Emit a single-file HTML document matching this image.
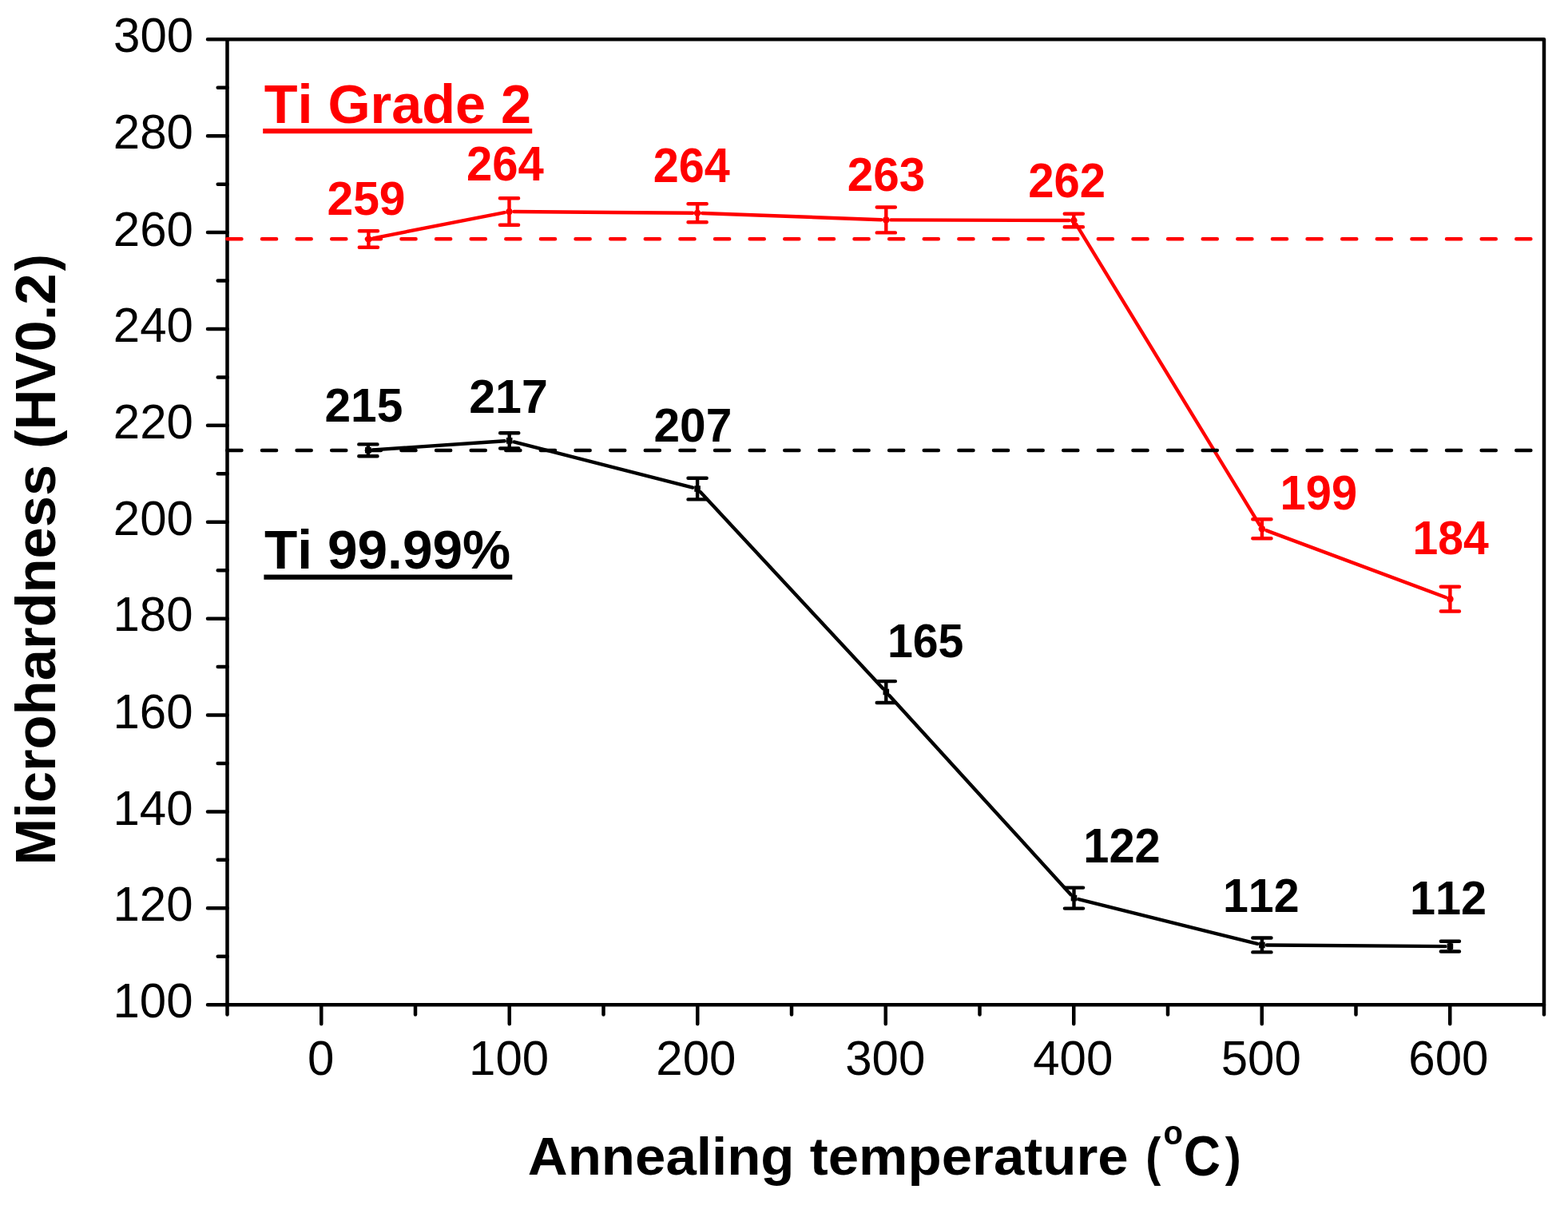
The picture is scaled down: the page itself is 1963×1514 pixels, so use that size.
<!DOCTYPE html>
<html><head><meta charset="utf-8"><title>Microhardness vs annealing temperature</title>
<style>html,body{margin:0;padding:0;background:#fff;overflow:hidden}svg{display:block}</style>
</head><body>
<svg width="1963" height="1514" viewBox="0 0 1963 1514">
<rect width="1963" height="1514" fill="#fff"/>
<g font-family="'Liberation Sans', Arial, sans-serif" style="font-kerning:none">
<text transform="matrix(1.0000 0 0 1.0200 141.46 1274.02)" font-size="60.0" font-weight="normal" fill="#000000">100</text>
<text transform="matrix(1.0000 0 0 1.0200 141.46 1153.30)" font-size="60.0" font-weight="normal" fill="#000000">120</text>
<text transform="matrix(1.0000 0 0 1.0200 141.46 1032.59)" font-size="60.0" font-weight="normal" fill="#000000">140</text>
<text transform="matrix(1.0000 0 0 1.0200 141.46 911.88)" font-size="60.0" font-weight="normal" fill="#000000">160</text>
<text transform="matrix(1.0000 0 0 1.0200 141.46 790.36)" font-size="60.0" font-weight="normal" fill="#000000">180</text>
<text transform="matrix(1.0000 0 0 1.0200 141.86 669.65)" font-size="60.0" font-weight="normal" fill="#000000">200</text>
<text transform="matrix(1.0000 0 0 1.0200 141.86 548.93)" font-size="60.0" font-weight="normal" fill="#000000">220</text>
<text transform="matrix(1.0000 0 0 1.0200 141.86 428.22)" font-size="60.0" font-weight="normal" fill="#000000">240</text>
<text transform="matrix(1.0000 0 0 1.0200 141.86 307.51)" font-size="60.0" font-weight="normal" fill="#000000">260</text>
<text transform="matrix(1.0000 0 0 1.0200 141.86 185.99)" font-size="60.0" font-weight="normal" fill="#000000">280</text>
<text transform="matrix(1.0000 0 0 1.0200 142.06 65.28)" font-size="60.0" font-weight="normal" fill="#000000">300</text>
<text transform="matrix(1.0000 0 0 1.0200 384.89 1346.02)" font-size="60.0" font-weight="normal" fill="#000000">0</text>
<text transform="matrix(1.0000 0 0 1.0200 587.09 1346.02)" font-size="60.0" font-weight="normal" fill="#000000">100</text>
<text transform="matrix(1.0000 0 0 1.0200 821.35 1346.02)" font-size="60.0" font-weight="normal" fill="#000000">200</text>
<text transform="matrix(1.0000 0 0 1.0200 1058.25 1346.02)" font-size="60.0" font-weight="normal" fill="#000000">300</text>
<text transform="matrix(1.0000 0 0 1.0200 1293.18 1346.02)" font-size="60.0" font-weight="normal" fill="#000000">400</text>
<text transform="matrix(1.0000 0 0 1.0200 1528.75 1346.02)" font-size="60.0" font-weight="normal" fill="#000000">500</text>
<text transform="matrix(1.0000 0 0 1.0200 1763.34 1346.02)" font-size="60.0" font-weight="normal" fill="#000000">600</text>
<text transform="matrix(1.0038 0 0 0.9700 660.77 1471.10)" font-size="68.8" font-weight="bold" fill="#000000">Annealing temperature</text>
<text transform="matrix(0.8306 0 0 0.9664 1434.14 1471.40)" font-size="68.8" font-weight="bold" fill="#000000">(</text>
<text transform="matrix(0.9639 0 0 1.0079 1456.40 1432.88)" font-size="41.5" font-weight="bold" fill="#000000">o</text>
<text transform="matrix(0.9320 0 0 1.0169 1481.84 1471.70)" font-size="68.8" font-weight="bold" fill="#000000">C</text>
<text transform="matrix(0.8773 0 0 0.9664 1533.65 1471.40)" font-size="68.8" font-weight="bold" fill="#000000">)</text>
<text transform="matrix(0 -1.0010 1.0000 0 68.90 1083.56)" font-size="70.5" font-weight="bold" fill="#000000">Microhardness (HV0.2</text>
<text transform="matrix(0 -0.8865 0.9766 0 67.71 339.26)" font-size="70.5" font-weight="bold" fill="#000000">)</text>
<text transform="matrix(0.9949 0 0 0.9900 330.72 153.70)" font-size="68.7" font-weight="bold" fill="#ff0000">Ti Grade 2</text>
<text transform="matrix(0.9844 0 0 0.9900 331.02 711.50)" font-size="68.7" font-weight="bold" fill="#000000">Ti 99.99%</text>
<text transform="matrix(1.0093 0 0 1.0255 409.44 268.70)" font-size="58.3" font-weight="bold" fill="#ff0000">259</text>
<text transform="matrix(0.9960 0 0 1.0389 583.97 226.24)" font-size="58.3" font-weight="bold" fill="#ff0000">264</text>
<text transform="matrix(0.9875 0 0 1.0449 817.78 227.79)" font-size="58.3" font-weight="bold" fill="#ff0000">264</text>
<text transform="matrix(1.0034 0 0 1.0026 1060.75 238.67)" font-size="58.3" font-weight="bold" fill="#ff0000">263</text>
<text transform="matrix(0.9963 0 0 1.0449 1287.17 247.19)" font-size="58.3" font-weight="bold" fill="#ff0000">262</text>
<text transform="matrix(0.9931 0 0 1.0595 1602.58 638.08)" font-size="58.3" font-weight="bold" fill="#ff0000">199</text>
<text transform="matrix(0.9798 0 0 1.0279 1768.53 694.30)" font-size="58.3" font-weight="bold" fill="#ff0000">184</text>
<text transform="matrix(1.0067 0 0 1.0304 406.45 527.70)" font-size="58.3" font-weight="bold" fill="#000000">215</text>
<text transform="matrix(1.0141 0 0 1.0206 587.23 517.00)" font-size="58.3" font-weight="bold" fill="#000000">217</text>
<text transform="matrix(1.0054 0 0 1.0279 818.45 553.30)" font-size="58.3" font-weight="bold" fill="#000000">207</text>
<text transform="matrix(0.9819 0 0 1.0134 1110.92 823.21)" font-size="58.3" font-weight="bold" fill="#000000">165</text>
<text transform="matrix(0.9919 0 0 1.0328 1356.29 1080.30)" font-size="58.3" font-weight="bold" fill="#000000">122</text>
<text transform="matrix(0.9826 0 0 1.0156 1530.92 1141.50)" font-size="58.3" font-weight="bold" fill="#000000">112</text>
<text transform="matrix(0.9883 0 0 1.0156 1764.90 1144.80)" font-size="58.3" font-weight="bold" fill="#000000">112</text>
</g>
<rect x="329.2" y="161.0" width="337.0" height="6.2" fill="#ff0000"/>
<rect x="330.4" y="719.6" width="310.9" height="6.2" fill="#000000"/>
<g stroke="#000" stroke-width="4.5" stroke-linecap="round" fill="none">
<path d="M284.5,1258.2 V49.3 H1933.0 V1258.2 Z" stroke-linejoin="round"/>
<path d="M284.5,1258.20h-24.5 M284.5,1197.76h-11.8 M284.5,1137.31h-24.5 M284.5,1076.87h-11.8 M284.5,1016.42h-24.5 M284.5,955.98h-11.8 M284.5,895.53h-24.5 M284.5,835.09h-11.8 M284.5,774.64h-24.5 M284.5,714.20h-11.8 M284.5,653.75h-24.5 M284.5,593.31h-11.8 M284.5,532.86h-24.5 M284.5,472.41h-11.8 M284.5,411.97h-24.5 M284.5,351.52h-11.8 M284.5,291.08h-24.5 M284.5,230.63h-11.8 M284.5,170.19h-24.5 M284.5,109.75h-11.8 M284.5,49.30h-24.5 M284.50,1258.2v12.2 M402.25,1258.2v24.0 M520.00,1258.2v12.2 M637.75,1258.2v24.0 M755.50,1258.2v12.2 M873.25,1258.2v24.0 M991.00,1258.2v12.2 M1108.75,1258.2v24.0 M1226.50,1258.2v12.2 M1344.25,1258.2v24.0 M1462.00,1258.2v12.2 M1579.75,1258.2v24.0 M1697.50,1258.2v12.2 M1815.25,1258.2v24.0 M1933.00,1258.2v12.2"/>
</g>
<g stroke="#ff0000" stroke-width="4.4" stroke-linecap="round" fill="none">
<path d="M467.29,298.30L631.61,266.15 M643.50,265.04L867.10,266.71 M879.10,266.97L1103.30,275.18 M1115.30,275.42L1338.30,276.03 M1347.42,281.17L1576.78,657.13 M1585.52,664.35L1809.78,748.00"/>
<path d="M461.4,289.2V309.7M449.80,289.2h23.2M449.80,309.7h23.2 M637.5,248.3V281.7M625.90,248.3h23.2M625.90,281.7h23.2 M873.1,255.3V278.2M861.50,255.3h23.2M861.50,278.2h23.2 M1109.3,259.5V291.4M1097.70,259.5h23.2M1097.70,291.4h23.2 M1344.3,267.8V284.3M1332.70,267.8h23.2M1332.70,284.3h23.2 M1579.9,650.2V674.3M1568.30,650.2h23.2M1568.30,674.3h23.2 M1815.4,734.7V765.5M1803.80,734.7h23.2M1803.80,765.5h23.2"/>
</g>
<g fill="#ff0000">
<circle cx="461.4" cy="299.45" r="4.3"/>
<circle cx="637.5" cy="265.0" r="4.3"/>
<circle cx="873.1" cy="266.75" r="4.3"/>
<circle cx="1109.3" cy="275.4" r="4.3"/>
<circle cx="1344.3" cy="276.05" r="4.3"/>
<circle cx="1579.9" cy="662.25" r="4.3"/>
<circle cx="1815.4" cy="750.1" r="4.3"/>
</g>
<g stroke="#000000" stroke-width="4.4" stroke-linecap="round" fill="none">
<path d="M466.89,563.40L631.71,552.30 M643.51,553.39L867.29,610.56 M877.18,616.45L1105.22,862.10 M1113.34,870.93L1340.46,1120.17 M1350.32,1126.06L1574.08,1181.99 M1585.90,1183.49L1809.40,1185.11"/>
<path d="M460.9,556.4V571.2M449.30,556.4h23.2M449.30,571.2h23.2 M637.7,542.3V561.5M626.10,542.3h23.2M626.10,561.5h23.2 M873.1,598.7V625.4M861.50,598.7h23.2M861.50,625.4h23.2 M1109.3,853.1V880.0M1097.70,853.1h23.2M1097.70,880.0h23.2 M1344.5,1111.6V1137.6M1332.90,1111.6h23.2M1332.90,1137.6h23.2 M1579.9,1174.5V1192.4M1568.30,1174.5h23.2M1568.30,1192.4h23.2 M1815.4,1178.8V1191.5M1803.80,1178.8h23.2M1803.80,1191.5h23.2"/>
</g>
<g fill="#000000">
<rect x="457.10" y="560.00" width="7.6" height="7.6"/>
<rect x="633.90" y="548.10" width="7.6" height="7.6"/>
<rect x="869.30" y="608.25" width="7.6" height="7.6"/>
<rect x="1105.50" y="862.70" width="7.6" height="7.6"/>
<rect x="1340.70" y="1120.80" width="7.6" height="7.6"/>
<rect x="1576.10" y="1179.65" width="7.6" height="7.6"/>
<rect x="1811.60" y="1181.35" width="7.6" height="7.6"/>
</g>
<g stroke-width="4.4" stroke-linecap="round" stroke-dasharray="18.2 25.42" fill="none">
<path d="M284.3,299.3H1933" stroke="#ff0000"/>
<path d="M284.3,564.0H1933" stroke="#000000"/>
</g>
</svg>
</body></html>
